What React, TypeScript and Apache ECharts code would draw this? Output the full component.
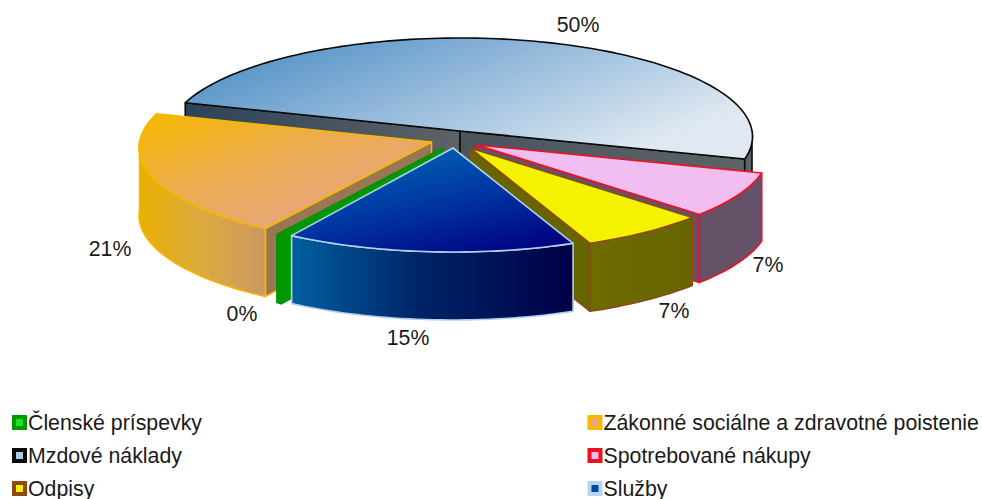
import React, { useEffect, useRef } from "react";
import * as echarts from "echarts";

// Data
const categories = ["Mzdové náklady", "Spotrebované nákupy", "Odpisy", "Služby", "Členské príspevky", "Zákonné sociálne a zdravotné poistenie"];
const shares = [49.8, 7.4, 6.7, 15.2, 0.3, 20.6];
const leftLegend = ["Členské príspevky", "Mzdové náklady", "Odpisy"];
const rightLegend = ["Zákonné sociálne a zdravotné poistenie", "Spotrebované nákupy", "Služby"];

// Layout
const START_ANGLE = -73;
const RX = 292;
const RY = 98.2;
const K = 0.0558;
const DEPTH = 68;
const apexes = [[460, 131], [477, 145], [470, 148], [453, 148], [443, 148], [431.5, 142]];
const labelAt = [[578, 25], [768, 265], [674, 311], [408, 338], [242, 314], [110, 249]];
const paintOrder = [0, 1, 2, 5, 4, 3];
const FONT = "'Liberation Sans', Arial, sans-serif";

const lin = (x: number, y: number, x2: number, y2: number, stops: [number, string][]) => ({
  type: "linear", x, y, x2, y2,
  colorStops: stops.map(([offset, color]) => ({ offset, color })),
});

const looks: any[] = [
  {
    top: lin(0, 0, 1, 0.55, [[0, "#3f86c0"], [0.5, "#90b7da"], [1, "#e0e9f1"]]),
    wall: "#5e6266",
    cut: [lin(0, 0, 1, 0, [[0, "#2c4357"], [1, "#5e6266"]]), lin(0, 0, 1, 0, [[0, "#4a545e"], [1, "#5e6266"]])],
    border: "#0a0a0a",
    legend: "#a9cbe8",
  },
  { top: "#f2bdf0", wall: "#665268", cut: ["#665268", "#665268"], border: "#f01020", legend: "#f2bdf0" },
  { top: "#f5f200", wall: lin(0, 0, 1, 0, [[0, "#6e6c00"], [1, "#666500"]]), cut: ["#666500", "#666500"], border: "#8f4a14", legend: "#f5f200" },
  {
    top: lin(0.25, 0, 0.85, 1, [[0, "#0068b4"], [0.5, "#0036a2"], [1, "#000080"]]),
    wall: lin(0, 0, 1, 0, [[0, "#00609f"], [0.45, "#002468"], [1, "#000046"]]),
    cut: ["#00609f", "#00609f"],
    border: "#b0d0ee",
    legend: "#0048a0",
  },
  { top: "#00a000", wall: "#009900", cut: ["#009900", "#009900"], border: "#0b8f0b", legend: "#20e020" },
  {
    top: lin(0, 0.05, 0.75, 0.85, [[0, "#f5b800"], [0.5, "#ecac50"], [1, "#e6a680"]]),
    wall: lin(0, 0, 1, 0, [[0, "#e8b000"], [0.5, "#dcab40"], [1, "#cb9862"]]),
    cut: ["#997654", "#997654"],
    border: "#f5b800",
    legend: "#e8a880",
  },
];

const legendBorders = ["#0a0a0a", "#f01020", "#8f4a14", "#b8d4f0", "#009900", "#f5b800"];

const total = shares.reduce((s, v) => s + v, 0);
const rad = (d: number) => (d * Math.PI) / 180;

function rimPoint(apex: number[], deg: number, drop = 0): number[] {
  const X = Math.sin(rad(deg));
  const Y = -Math.cos(rad(deg));
  const s = 1 / (1 - K * Y);
  return [apex[0] + RX * X * s, apex[1] + RY * Y * s + drop];
}

function arcPoints(apex: number[], a: number, b: number, drop = 0): number[][] {
  const out: number[][] = [];
  const n = Math.max(2, Math.ceil((b - a) / 1.5));
  for (let i = 0; i <= n; i++) out.push(rimPoint(apex, a + ((b - a) * i) / n, drop));
  return out;
}

function sliceChildren(index: number, a1: number, a2: number) {
  const apex = apexes[index];
  const look = looks[index];
  const lineWidth = 1.6;
  const children: any[] = [];
  const face = (points: number[][], fill: any) =>
    children.push({ type: "polygon", shape: { points }, style: { fill, stroke: look.border, lineWidth, lineJoin: "round" } });

  // radial cut faces that look toward the viewer
  if (-Math.sin(rad(a1)) > 0) {
    const p = rimPoint(apex, a1);
    face([apex, p, [p[0], p[1] + DEPTH], [apex[0], apex[1] + DEPTH]], look.cut[0]);
  }
  if (Math.sin(rad(a2)) > 0) {
    const p = rimPoint(apex, a2);
    face([apex, p, [p[0], p[1] + DEPTH], [apex[0], apex[1] + DEPTH]], look.cut[1]);
  }
  // outer wall: the part of the rim on the front half
  [90, 450].forEach((from) => {
    const a = Math.max(a1, from);
    const b = Math.min(a2, from + 180);
    if (b > a) {
      face([...arcPoints(apex, a, b), ...arcPoints(apex, a, b, DEPTH).reverse()], look.wall);
    }
  });
  // top
  face([apex, ...arcPoints(apex, a1, a2)], look.top);
  // percent label
  children.push({
    type: "text",
    style: {
      text: Math.round((shares[index] / total) * 100) + "%",
      x: labelAt[index][0],
      y: labelAt[index][1],
      fill: "#1a1a1a",
      fontFamily: FONT,
      fontSize: 21.3,
      align: "center",
      verticalAlign: "middle",
    },
  });
  return children;
}

const legendData = (names: string[]) =>
  names.map((name) => {
    const i = categories.indexOf(name);
    return {
      name,
      icon: "rect",
      itemStyle: { color: looks[i].legend, borderColor: legendBorders[i], borderWidth: 4 },
    };
  });

export default function App() {
  const ref = useRef<HTMLDivElement>(null);
  useEffect(() => {
    document.body.style.margin = "0";
    const chart = echarts.init(ref.current!, null, { renderer: "svg" });

    let acc = START_ANGLE;
    const spans = shares.map((v) => {
      const a1 = acc;
      acc += (v / total) * 360;
      return [a1, acc];
    });

    const legendBase = {
      orient: "vertical" as const,
      selectedMode: false,
      itemWidth: 11,
      itemHeight: 11,
      itemGap: 12,
      padding: 0,
      textStyle: { fontFamily: FONT, fontSize: 21.3, color: "#1a1a1a", padding: [0, 0, 0, -2] },
    };

    chart.setOption({
      animation: false,
      backgroundColor: "#ffffff",
      legend: [
        { ...legendBase, left: 12, top: 412, data: legendData(leftLegend) },
        { ...legendBase, left: 587.5, top: 412, data: legendData(rightLegend) },
      ],
      series: paintOrder.map((i) => ({
        type: "custom",
        name: categories[i],
        coordinateSystem: "none",
        silent: true,
        data: [[shares[i]]],
        itemStyle: { color: looks[i].legend },
        renderItem: () => ({
          type: "group",
          children: sliceChildren(i, spans[i][0], spans[i][1]),
        }),
      })),
    });
    return () => chart.dispose();
  }, []);
  return <div ref={ref} style={{ width: 982, height: 499 }} />;
}
